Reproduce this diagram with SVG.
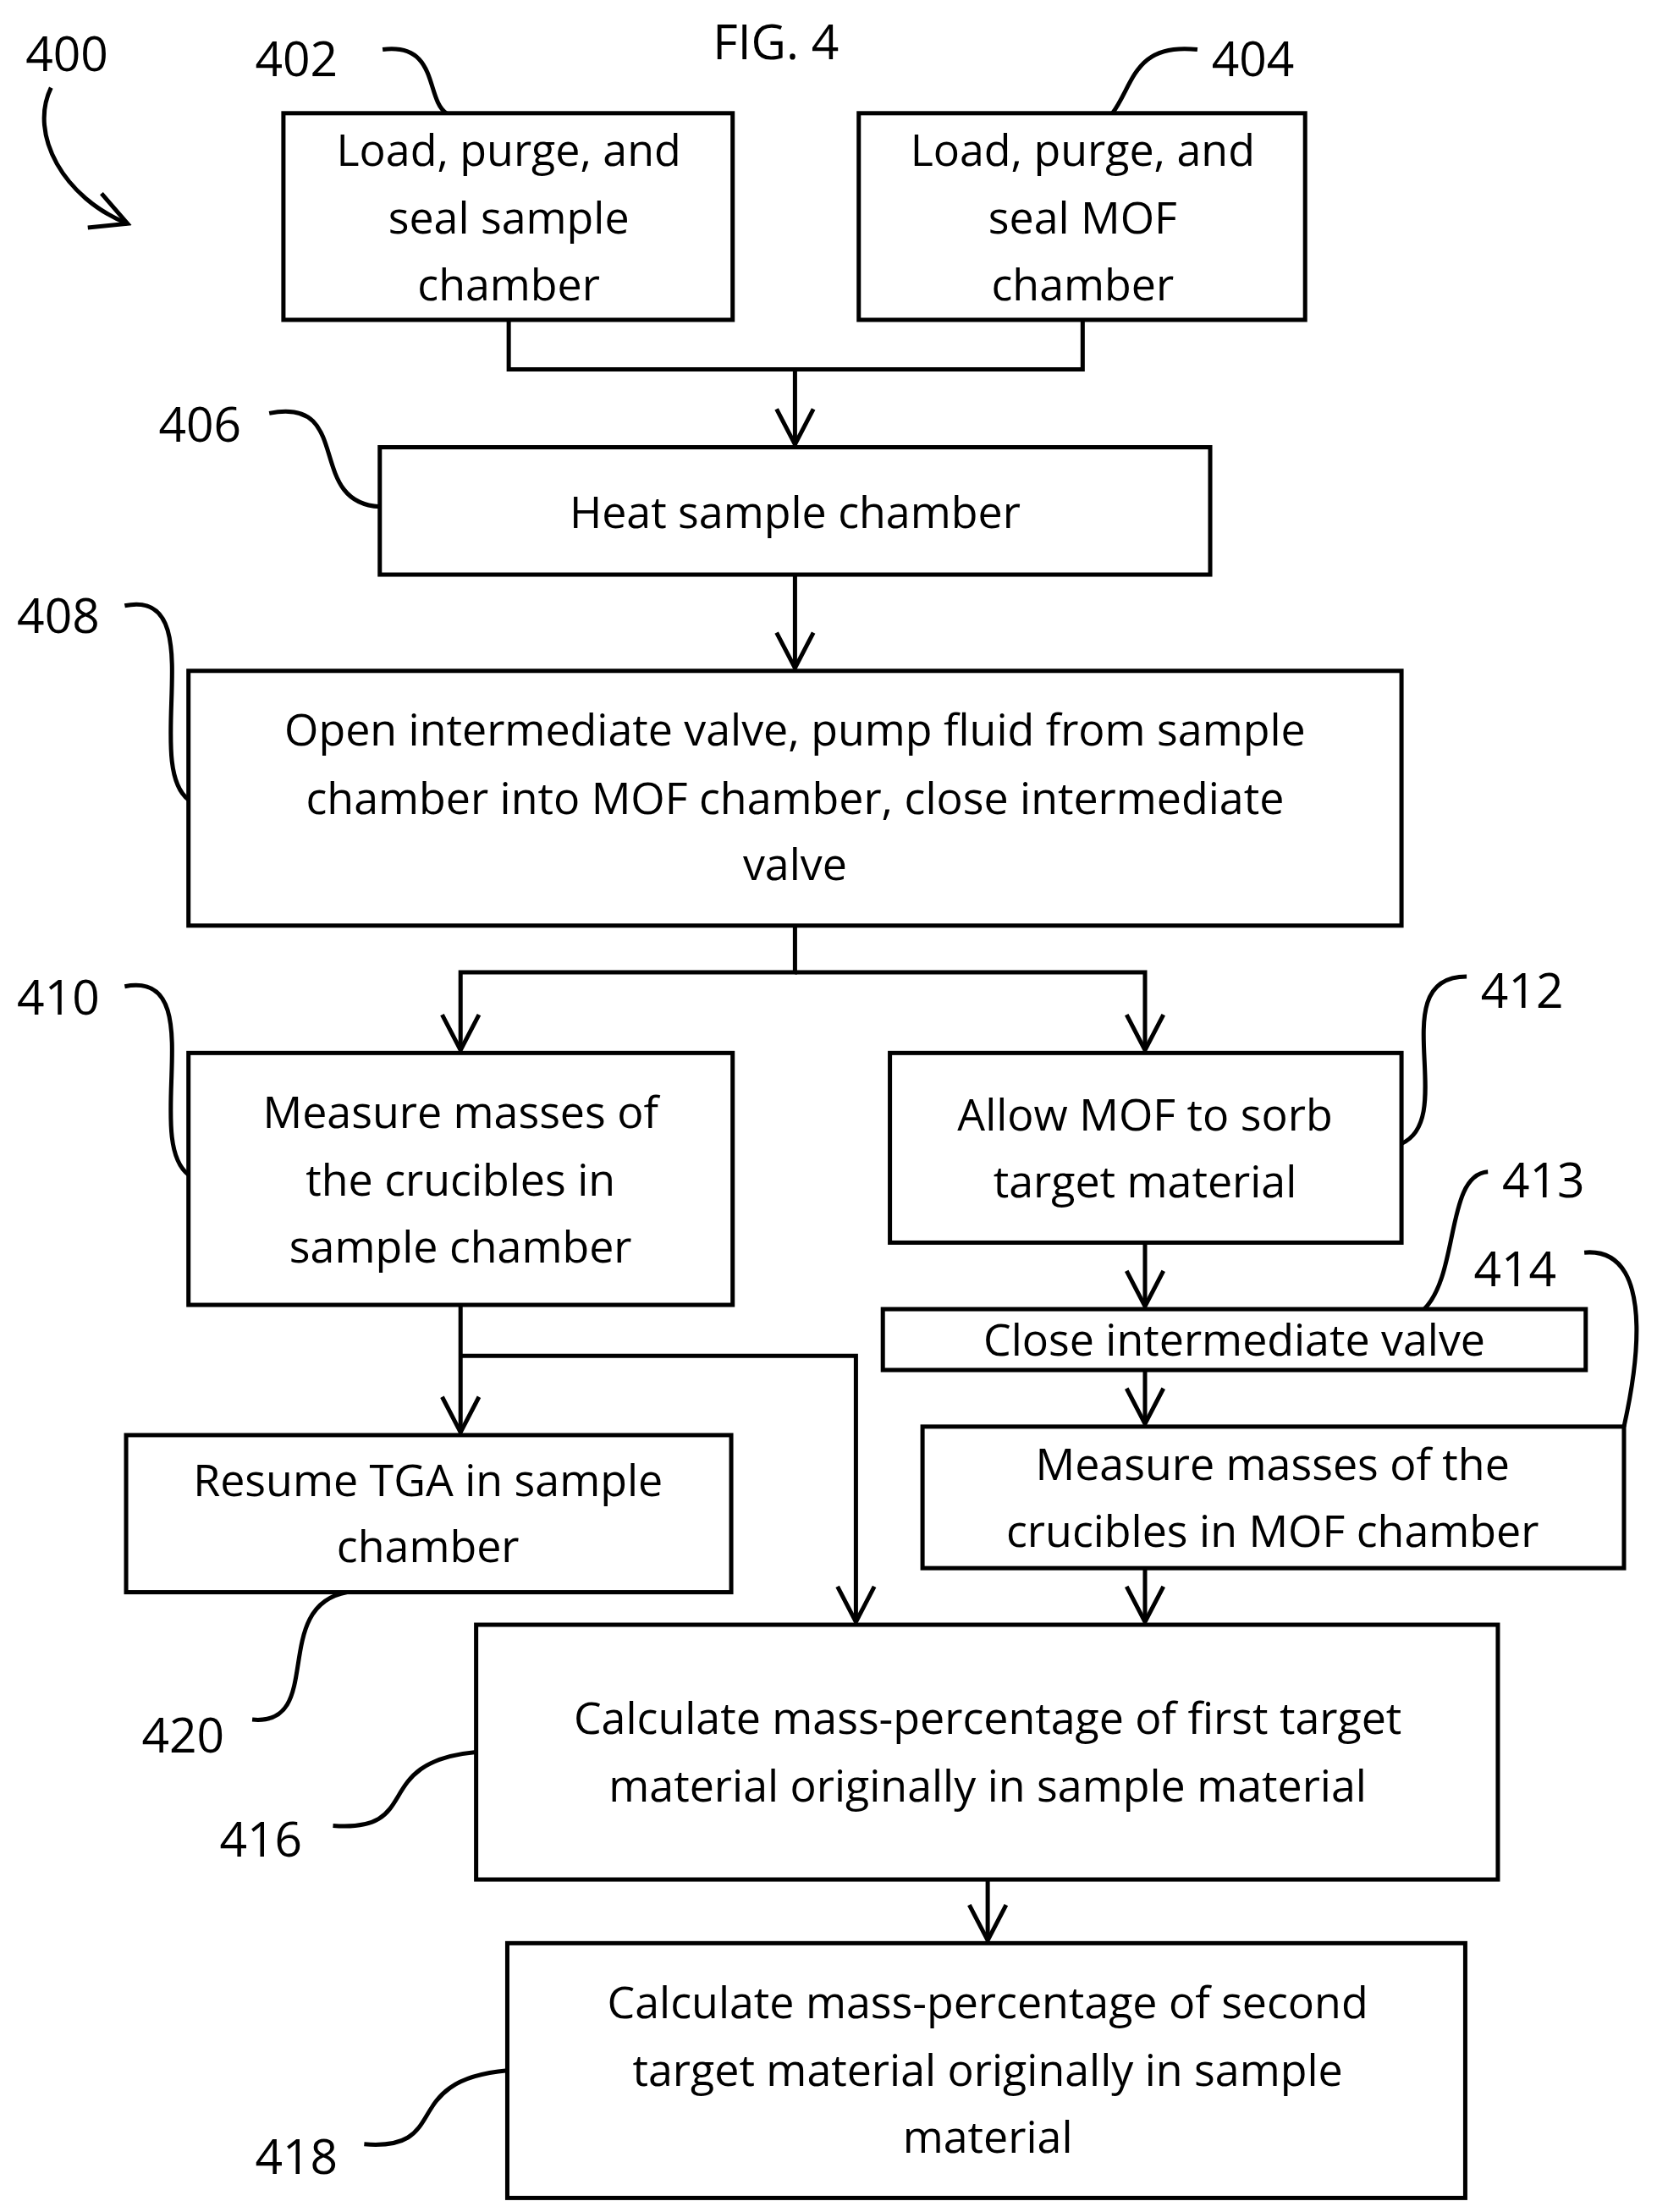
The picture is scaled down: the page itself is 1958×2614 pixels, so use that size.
<svg xmlns="http://www.w3.org/2000/svg" width="1958" height="2614" viewBox="0 0 1958 2614">
<style>
.b{fill:#fff;stroke:#000;stroke-width:3}
.t{font-family:"Open Sans","Liberation Sans",sans-serif;font-size:31px;text-anchor:middle;fill:#000}
.l{font-family:"Open Sans","Liberation Sans",sans-serif;font-size:34px;fill:#000}
.c{fill:none;stroke:#000;stroke-width:3}
</style>
<defs><marker id="a" markerWidth="12" markerHeight="12" refX="10" refY="6" orient="auto" markerUnits="userSpaceOnUse"><path d="M0,0 L10,6 L0,12" fill="none" stroke="#000" stroke-width="3"/></marker>
<marker id="h" markerWidth="30" markerHeight="30" refX="27" refY="15" orient="auto" markerUnits="userSpaceOnUse"><path d="M2,2 L27,15 L2,28" fill="none" stroke="#000" stroke-width="3"/></marker></defs>
<rect width="1958" height="2614" fill="#fff"/>
<g transform="scale(1.6745,1.6725)">
<g id="connectors">
<path class="c" d="M359,226V261H764V226M561,261V314" marker-end="url(#h)"/>
<path class="c" d="M561,406V472" marker-end="url(#h)"/>
<path class="c" d="M561,654V687H325V742" marker-end="url(#h)"/>
<path class="c" d="M561,687H808V742" marker-end="url(#h)"/>
<path class="c" d="M808,878V923" marker-end="url(#h)"/>
<path class="c" d="M808,968V1006" marker-end="url(#h)"/>
<path class="c" d="M325,922V1012" marker-end="url(#h)"/>
<path class="c" d="M325,958H604V1146" marker-end="url(#h)"/>
<path class="c" d="M808,1108V1146" marker-end="url(#h)"/>
<path class="c" d="M697,1328V1371" marker-end="url(#h)"/>
<path class="c" d="M36,62C20,95 45,140 90,158" marker-end="url(#h)"/>
<path class="c" d="M270,35C310,30 300,70 315,80"/>
<path class="c" d="M845,35C800,30 800,60 785,80"/>
<path class="c" d="M190,292C250,280 215,355 268,358"/>
<path class="c" d="M88,428C150,415 100,540 133,565"/>
<path class="c" d="M88,697C150,685 100,805 133,830"/>
<path class="c" d="M1035,690C975,690 1030,790 989,808"/>
<path class="c" d="M1050,828C1020,830 1030,900 1005,925"/>
<path class="c" d="M1118,885C1175,880 1150,990 1146,1008"/>
<path class="c" d="M178,1215C230,1220 190,1135 245,1125"/>
<path class="c" d="M235,1290C300,1295 260,1245 336,1238"/>
<path class="c" d="M257,1515C320,1520 280,1470 358,1463"/>
</g>
<text class="l" x="18" y="50">400</text>
<text class="l" x="503" y="42">FIG. 4</text>
<text class="l" x="180" y="54">402</text>
<text class="l" x="855" y="54">404</text>
<text class="l" x="112" y="312">406</text>
<text class="l" x="12" y="447">408</text>
<text class="l" x="12" y="717">410</text>
<text class="l" x="1045" y="712">412</text>
<text class="l" x="1060" y="846">413</text>
<text class="l" x="1040" y="909">414</text>
<text class="l" x="100" y="1238">420</text>
<text class="l" x="155" y="1312">416</text>
<text class="l" x="180" y="1536">418</text>
<g id="n402"><rect class="b" x="200" y="80" width="317" height="146"/><text class="t"><tspan x="359" y="117">Load, purge, and</tspan><tspan x="359" y="165">seal sample</tspan><tspan x="359" y="212">chamber</tspan></text></g>
<g id="n404"><rect class="b" x="606" y="80" width="315" height="146"/><text class="t"><tspan x="764" y="117">Load, purge, and</tspan><tspan x="764" y="165">seal MOF</tspan><tspan x="764" y="212">chamber</tspan></text></g>
<g id="n406"><rect class="b" x="268" y="316" width="586" height="90"/><text class="t" x="561" y="373">Heat sample chamber</text></g>
<g id="n408"><rect class="b" x="133" y="474" width="856" height="180"/><text class="t"><tspan x="561" y="527">Open intermediate valve, pump fluid from sample</tspan><tspan x="561" y="575">chamber into MOF chamber, close intermediate</tspan><tspan x="561" y="622">valve</tspan></text></g>
<g id="n410"><rect class="b" x="133" y="744" width="384" height="178"/><text class="t"><tspan x="325" y="797">Measure masses of</tspan><tspan x="325" y="845">the crucibles in</tspan><tspan x="325" y="892">sample chamber</tspan></text></g>
<g id="n412"><rect class="b" x="628" y="744" width="361" height="134"/><text class="t"><tspan x="808" y="799">Allow MOF to sorb</tspan><tspan x="808" y="846">target material</tspan></text></g>
<g id="n413"><rect class="b" x="623" y="925" width="496" height="43"/><text class="t" x="871" y="958">Close intermediate valve</text></g>
<g id="n414"><rect class="b" x="651" y="1008" width="495" height="100"/><text class="t"><tspan x="898" y="1046">Measure masses of the</tspan><tspan x="898" y="1093">crucibles in MOF chamber</tspan></text></g>
<g id="n420"><rect class="b" x="89" y="1014" width="427" height="111"/><text class="t"><tspan x="302" y="1057">Resume TGA in sample</tspan><tspan x="302" y="1104">chamber</tspan></text></g>
<g id="n416"><rect class="b" x="336" y="1148" width="721" height="180"/><text class="t"><tspan x="697" y="1225">Calculate mass-percentage of first target</tspan><tspan x="697" y="1273">material originally in sample material</tspan></text></g>
<g id="n418"><rect class="b" x="358" y="1373" width="676" height="180"/><text class="t"><tspan x="697" y="1426">Calculate mass-percentage of second</tspan><tspan x="697" y="1474">target material originally in sample</tspan><tspan x="697" y="1521">material</tspan></text></g>
</g>
</svg>
